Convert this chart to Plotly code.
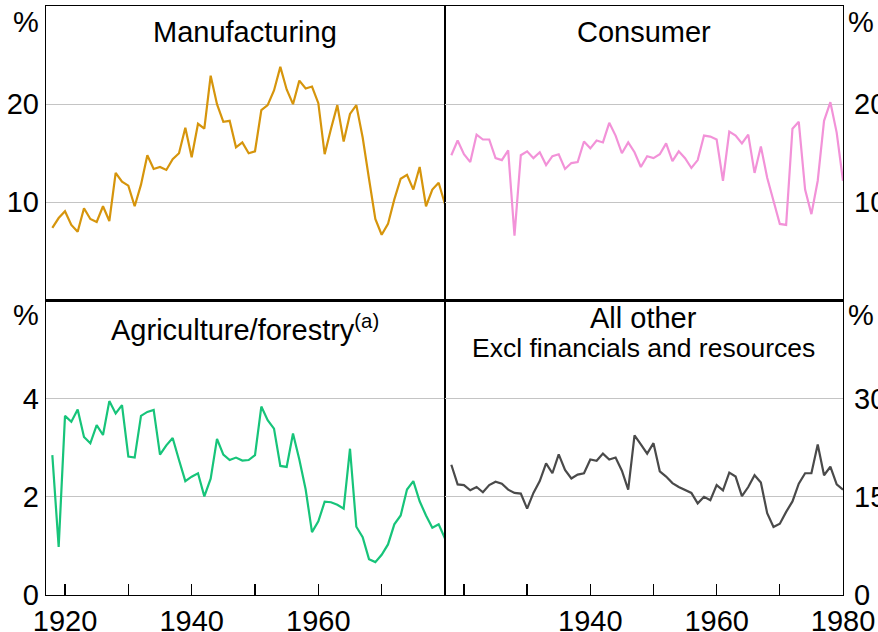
import plotly.graph_objects as go

years = list(range(1918, 1981))

manufacturing = [7.4, 8.4, 9.1, 7.7, 7.0, 9.4, 8.3, 8.0, 9.6, 8.1,
                 13.0, 12.1, 11.7, 9.6, 11.8, 14.8, 13.4, 13.6, 13.3, 14.4,
                 15.0, 17.6, 14.6, 18.0, 17.5, 22.9, 20.0, 18.2, 18.3, 15.6,
                 16.1, 15.0, 15.2, 19.4, 19.9, 21.4, 23.8, 21.5, 20.0, 22.4,
                 21.6, 21.8, 20.1, 14.9, 17.5, 19.9, 16.2, 19.0, 19.9, 16.6,
                 12.4, 8.3, 6.7, 7.8, 10.3, 12.4, 12.8, 11.3, 13.6, 9.6,
                 11.3, 12.0, 9.8]

consumer = [14.8, 16.3, 14.9, 14.1, 16.9, 16.4, 16.4, 14.5, 14.3, 15.3,
            6.6, 14.8, 15.2, 14.5, 15.1, 13.8, 14.7, 14.9, 13.4, 14.0,
            14.1, 16.2, 15.5, 16.3, 16.1, 18.1, 16.8, 15.0, 16.1, 15.1,
            13.6, 14.7, 14.5, 14.9, 16.0, 14.2, 15.2, 14.5, 13.5, 14.3,
            16.8, 16.7, 16.4, 12.2, 17.2, 16.8, 16.0, 16.9, 13.0, 15.7,
            12.5, 10.1, 7.8, 7.7, 17.5, 18.2, 11.3, 8.8, 12.2, 18.3,
            20.2, 17.1, 12.2]

agriculture = [2.85, 0.98, 3.65, 3.53, 3.78, 3.22, 3.09, 3.46, 3.26, 3.95,
               3.70, 3.87, 2.82, 2.80, 3.65, 3.73, 3.77, 2.86, 3.05, 3.20,
               2.75, 2.32, 2.41, 2.48, 2.01, 2.37, 3.18, 2.86, 2.75, 2.80,
               2.74, 2.75, 2.85, 3.84, 3.56, 3.39, 2.63, 2.61, 3.29, 2.76,
               2.15, 1.28, 1.50, 1.90, 1.89, 1.84, 1.76, 2.98, 1.39, 1.18,
               0.73, 0.67, 0.82, 1.03, 1.44, 1.62, 2.15, 2.32, 1.91, 1.62,
               1.37, 1.44, 1.15]

all_other = [19.9, 16.9, 16.8, 16.0, 16.5, 15.7, 16.8, 17.3, 17.0, 16.1,
             15.6, 15.5, 13.2, 15.6, 17.4, 20.1, 18.6, 21.5, 19.1, 17.8,
             18.4, 18.6, 20.7, 20.5, 21.6, 20.7, 21.0, 19.0, 16.1, 24.4,
             23.0, 21.6, 23.2, 18.9, 18.1, 17.1, 16.5, 16.0, 15.6, 14.0,
             15.0, 14.5, 16.8, 16.0, 18.7, 18.1, 15.1, 16.5, 18.3, 17.2,
             12.5, 10.4, 10.9, 12.7, 14.3, 17.0, 18.6, 18.6, 23.0, 18.3,
             19.6, 16.9, 16.1]

titles = ["Manufacturing", "Consumer", "Agriculture/forestry<sup>(a)</sup>",
          "All other", "Excl financials and resources"]

FONT = "Liberation Sans, Arial, sans-serif"
TICK = 29
TITLE = 29
GRID = "#c4c4c4"

fig = go.Figure()
series = [
    (manufacturing, "#D6950C", "x", "y"),
    (consumer, "#F292D8", "x2", "y2"),
    (agriculture, "#17C47A", "x3", "y3"),
    (all_other, "#4A4A4A", "x4", "y4"),
]
for vals, col, xa, ya in series:
    fig.add_trace(go.Scatter(x=years, y=vals, mode="lines",
                             line=dict(color=col, width=2.2),
                             xaxis=xa, yaxis=ya, showlegend=False,
                             hoverinfo="skip"))

split_x = 399 / 797
common_x = dict(range=[1917, 1980], showline=True, mirror=True, linecolor="black",
                linewidth=1.3, showgrid=False, zeroline=False, automargin=False,
                tickfont=dict(size=TICK, color="black", family=FONT))
common_y = dict(showline=True, mirror=True, linecolor="black", linewidth=1.3,
                showgrid=True, gridcolor=GRID, gridwidth=1, zeroline=False,
                automargin=False, ticks="",
                tickfont=dict(size=TICK, color="black", family=FONT))

xt = [1920, 1930, 1940, 1950, 1960, 1970, 1980]

fig.update_layout(
    width=878, height=632,
    margin=dict(l=46, r=35, t=6, b=37, autoexpand=False),
    paper_bgcolor="white", plot_bgcolor="white",
    font=dict(family=FONT, color="black"),
    xaxis=dict(common_x, domain=[0, split_x], anchor="y", showticklabels=False, ticks=""),
    xaxis2=dict(common_x, domain=[split_x, 1], anchor="y2", showticklabels=False, ticks=""),
    xaxis3=dict(common_x, domain=[0, split_x], anchor="y3", ticks="inside", ticklen=11,
                tickcolor="black", tickwidth=1.3,
                tickvals=xt[:-1], ticktext=["1920", "", "1940", "", "1960", ""]),
    xaxis4=dict(common_x, domain=[split_x, 1], anchor="y4", ticks="inside", ticklen=11,
                tickcolor="black", tickwidth=1.3,
                tickvals=xt, ticktext=["", "", "1940", "", "1960", "", "1980"]),
    yaxis=dict(common_y, domain=[0.5, 1], anchor="x", range=[0, 30], tickvals=[10, 20],
               side="left", ticklabelstandoff=0),
    yaxis2=dict(common_y, domain=[0.5, 1], anchor="x2", range=[0, 30], tickvals=[10, 20],
                side="right", ticklabelstandoff=4),
    yaxis3=dict(common_y, domain=[0, 0.5], anchor="x3", range=[0, 6], tickvals=[0, 2, 4],
                side="left", ticklabelstandoff=0),
    yaxis4=dict(common_y, domain=[0, 0.5], anchor="x4", range=[0, 45], tickvals=[0, 15, 30],
                side="right", ticklabelstandoff=4),
)

def ann(text, x, y, size, xanchor="center"):
    fig.add_annotation(text=text, x=x, y=y, xref="paper", yref="paper",
                       xanchor=xanchor, yanchor="middle", showarrow=False,
                       borderpad=0,
                       font=dict(size=size, color="black", family=FONT))

ann(titles[0], 0.25, 0.956, TITLE)
ann(titles[1], 0.75, 0.956, TITLE)
ann(titles[2], 0.25, 0.453, TITLE)
ann(titles[3], 0.75, 0.470, TITLE)
ann(titles[4], 0.75, 0.419, 26.5)

ann("%", -0.008, 0.973, TICK, xanchor="right")
ann("%", -0.008, 0.475, TICK, xanchor="right")
ann("%", 1.005, 0.973, TICK, xanchor="left")
ann("%", 1.005, 0.475, TICK, xanchor="left")

fig.write_html("out.html",
               config={"displayModeBar": False, "staticPlot": True},
               post_script="document.body.style.margin='0';document.body.style.overflow='hidden';")
